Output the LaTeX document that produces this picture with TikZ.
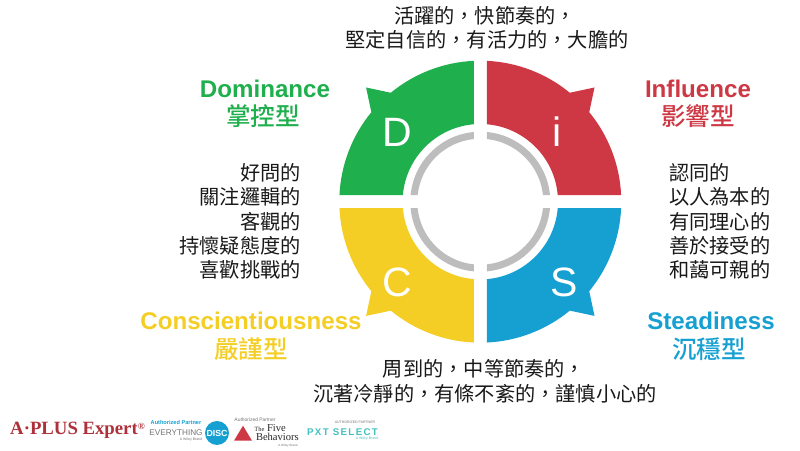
\documentclass[tikz,border=0pt]{standalone}
\usepackage{fontspec}
\setmainfont{Liberation Sans}
\newfontfamily\cjk{Noto Sans CJK TC}
\newfontfamily\cjkmed{Noto Sans CJK TC Medium}
\newfontfamily\logoserif{Liberation Serif}
\definecolor{dgreen}{HTML}{1FAF4D}
\definecolor{ired}{HTML}{CD3844}
\definecolor{syblue}{HTML}{16A0D2}
\definecolor{cyellow}{HTML}{F4CE25}
\definecolor{ringgray}{HTML}{BDBDBD}
\definecolor{pxtteal}{HTML}{45BFC0}
\newcommand{\petal}{(2.64:141) arc (2.64:39.4:141) -- (45:161.5) -- (50.6:141) arc (50.6:87.36:141) -- (85.2:77.7) arc (85.2:4.8:77.7) -- cycle}
\newcommand{\ringarc}{(5.3:70) arc (5.3:84.7:70) -- (84.1:63) arc (84.1:5.9:63) -- cycle}
\tikzset{
  bodytext/.style={font=\fontsize{17.25pt}{20.7pt}\cjk, text=black!90, align=center, inner sep=0pt},
  titletext/.style={font=\fontsize{20.6pt}{25pt}\bfseries, inner sep=0pt},
  titlecjk/.style={font=\fontsize{21pt}{25pt}\cjkmed, inner sep=0pt},
  letter/.style={font=\fontsize{35pt}{35pt}\selectfont, text=white, inner sep=0pt},
  logotext/.style={inner sep=0pt, text=black!55}
}
\begin{document}
\begin{tikzpicture}[x=0.03cm,y=0.03cm]
\useasboundingbox (0,0) rectangle (800,451);

% quadrants
\fill[ired, shift={(480.3,249.3)}] \petal;
\fill[dgreen, shift={(480.3,249.3)}, rotate=90] \petal;
\fill[cyellow, shift={(480.3,249.3)}, rotate=180] \petal;
\fill[syblue, shift={(480.3,249.3)}, rotate=270] \petal;

% grey ring
\fill[ringgray, shift={(480.3,249.3)}] \ringarc;
\fill[ringgray, shift={(480.3,249.3)}, rotate=90] \ringarc;
\fill[ringgray, shift={(480.3,249.3)}, rotate=180] \ringarc;
\fill[ringgray, shift={(480.3,249.3)}, rotate=270] \ringarc;

\node[letter] (letterD) at (397,319) {D};
\node[letter] (letteri) at (557,319) {i};
\node[letter] (letterC) at (397,169) {C};
\node[letter] (letterS) at (564,169) {S};

\node[titletext, text=dgreen] (titleD) at (265,362) {Dominance};
\node[titlecjk, text=dgreen] (cjkD) at (263,335) {掌控型};
\node[titletext, text=ired] (titlei) at (698,362) {Influence};
\node[titlecjk, text=ired] (cjki) at (698,335) {影響型};
\node[titletext, text=cyellow] (titleC) at (251,130) {Conscientiousness};
\node[titlecjk, text=cyellow] (cjkC) at (251,102) {嚴謹型};
\node[titletext, text=syblue] (titleS) at (711,130) {Steadiness};
\node[titlecjk, text=syblue] (cjkS) at (709,102) {沉穩型};

\node[bodytext] (topone) at (485,435) {活躍的，快節奏的，};
\node[bodytext] (toptwo) at (487,411) {堅定自信的，有活力的，大膽的};
\node[bodytext] (botone) at (484,82) {周到的，中等節奏的，};
\node[bodytext] (bottwo) at (485,57) {沉著冷靜的，有條不紊的，謹慎小心的};

\node[bodytext, align=right, anchor=east] (listD) at (301,229.5) {好問的\\關注邏輯的\\客觀的\\持懷疑態度的\\喜歡挑戰的};
\node[bodytext, align=left, anchor=west] (listi) at (669,229.5) {認同的\\以人為本的\\有同理心的\\善於接受的\\和藹可親的};

% logos along the bottom
\node[inner sep=0pt, anchor=west, text=ired!85!black, font=\fontsize{16pt}{17pt}\logoserif\bfseries] (aplus) at (10,21) {A·PLUS Expert\raisebox{4pt}{\fontsize{8pt}{9pt}\selectfont ®}};
\node[logotext, text=syblue, font=\fontsize{4.8pt}{5pt}\bfseries] (authone) at (176,28.5) {Authorized Partner};
\node[logotext, font=\fontsize{7pt}{7pt}\selectfont] (everything) at (176,18) {EVERYTHING};
\node[logotext, font=\fontsize{3pt}{4pt}\selectfont] (wileyone) at (191,11) {A Wiley Brand};
\node[circle, fill=syblue, inner sep=0pt, text=white, minimum size=0.72cm, font=\fontsize{7.5pt}{8pt}\bfseries] (disc) at (217,18) {DISC};
\node[logotext, font=\fontsize{4.2pt}{5pt}\selectfont] (authtwo) at (255,31.5) {Authorized Partner};
\coordinate (triA) at (234,10.3);
\coordinate (triB) at (252,10.3);
\coordinate (triC) at (243,25.3);
\fill[ired] (triA) -- (triB) -- (triC) -- cycle;
\node[logotext, text=black!85, align=right, anchor=east, font=\fontsize{9pt}{7.5pt}\logoserif] (behaviors) at (299,18.5) {{\fontsize{5.5pt}{6pt}\selectfont The} Five\hspace*{11pt}\\Behaviors};
\node[logotext, font=\fontsize{2.6pt}{3pt}\selectfont] (wileytwo) at (288,5.5) {A Wiley Brand};
\node[logotext, font=\fontsize{3pt}{4pt}\selectfont] (auththree) at (355,29) {AUTHORIZED PARTNER};
\node[logotext, text=pxtteal, font=\fontsize{8.3pt}{9pt}\bfseries\addfontfeature{LetterSpace=14}] (pxt) at (342.5,19) {PXT SELECT};
\node[logotext, text=pxtteal, font=\fontsize{3pt}{4pt}\selectfont] (wileythree) at (367,12) {A Wiley Brand};

\end{tikzpicture}
\end{document}
